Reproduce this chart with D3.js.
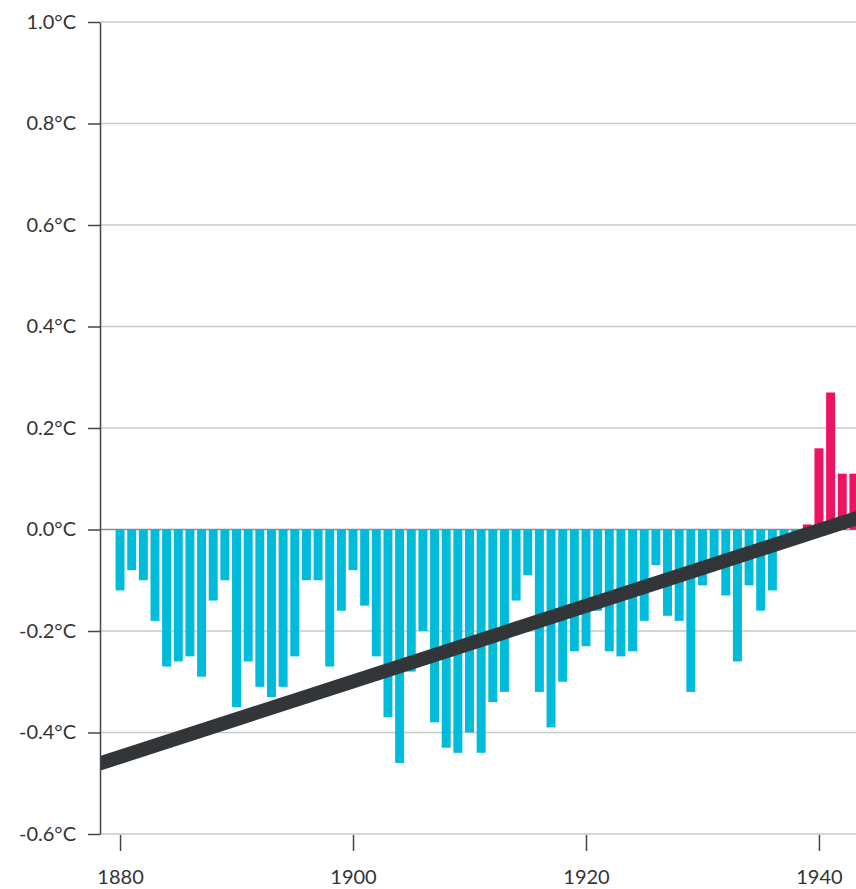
<!DOCTYPE html>
<html>
<head>
<meta charset="utf-8">
<script src="https://d3js.org/d3.v7.min.js"></script>
<style>
  body { margin: 0; background: #fff; }
  svg { display: block; font-family: Lato, "Open Sans", sans-serif; }
</style>
</head>
<body>
<svg id="chart"></svg>
<script>
const years = [
  1880, 1881, 1882, 1883, 1884, 1885, 1886, 1887, 1888, 1889,
  1890, 1891, 1892, 1893, 1894, 1895, 1896, 1897, 1898, 1899,
  1900, 1901, 1902, 1903, 1904, 1905, 1906, 1907, 1908, 1909,
  1910, 1911, 1912, 1913, 1914, 1915, 1916, 1917, 1918, 1919,
  1920, 1921, 1922, 1923, 1924, 1925, 1926, 1927, 1928, 1929,
  1930, 1931, 1932, 1933, 1934, 1935, 1936, 1937, 1938, 1939,
  1940, 1941, 1942, 1943
];
const anomalies = [
  -0.12, -0.08, -0.10, -0.18, -0.27, -0.26, -0.25, -0.29, -0.14, -0.10,
  -0.35, -0.26, -0.31, -0.33, -0.31, -0.25, -0.10, -0.10, -0.27, -0.16,
  -0.08, -0.15, -0.25, -0.37, -0.46, -0.28, -0.20, -0.38, -0.43, -0.44,
  -0.40, -0.44, -0.34, -0.32, -0.14, -0.09, -0.32, -0.39, -0.30, -0.24,
  -0.23, -0.16, -0.24, -0.25, -0.24, -0.18, -0.07, -0.17, -0.18, -0.32,
  -0.11, -0.07, -0.13, -0.26, -0.11, -0.16, -0.12, -0.03, -0.02, 0.01,
  0.16, 0.27, 0.11, 0.11
];
// linear trend, ends outside the visible window
const trendYears = [1878, 1944];
const trendValues = [-0.463, 0.028];

const yTicks = [-0.6, -0.4, -0.2, 0.0, 0.2, 0.4, 0.6, 0.8, 1.0];
const xTicks = [1880, 1900, 1920, 1940];

const width = 856;
const height = 889;
const margin = { top: 22, left: 100, bottom: 55 };

const svg = d3.select("#chart")
  .attr("width", width)
  .attr("height", height);

const x = d3.scaleLinear()
  .domain([1878.28, 1943.18])
  .range([margin.left, width]);

const y = d3.scaleLinear()
  .domain([-0.6, 1.0])
  .range([height - margin.bottom, margin.top]);

const barHalf = 0.385; // in years

svg.append("defs").append("clipPath")
  .attr("id", "plot-clip")
  .append("rect")
  .attr("x", margin.left)
  .attr("y", 0)
  .attr("width", width - margin.left)
  .attr("height", height);

// gridlines
svg.append("g")
  .selectAll("line")
  .data(yTicks)
  .join("line")
  .attr("x1", margin.left)
  .attr("x2", width)
  .attr("y1", d => y(d))
  .attr("y2", d => y(d))
  .attr("stroke", d => d === 0 ? "#8a8a8a" : "#c8c8c8")
  .attr("stroke-width", 1.5);

const data = years.map((yr, i) => ({ year: yr, value: anomalies[i] }));

// bars
svg.append("g")
  .attr("clip-path", "url(#plot-clip)")
  .selectAll("rect")
  .data(data)
  .join("rect")
  .attr("x", d => x(d.year - barHalf))
  .attr("width", d => x(d.year + barHalf) - x(d.year - barHalf))
  .attr("y", d => y(Math.max(0, d.value)))
  .attr("height", d => Math.abs(y(d.value) - y(0)))
  .attr("fill", d => d.value >= 0 ? "#ec1462" : "#00bcda");

// trend line
const line = d3.line()
  .x(d => x(d[0]))
  .y(d => y(d[1]));

svg.append("path")
  .attr("clip-path", "url(#plot-clip)")
  .datum(trendYears.map((yr, i) => [yr, trendValues[i]]))
  .attr("d", line)
  .attr("fill", "none")
  .attr("stroke", "#333638")
  .attr("stroke-width", 14);

// y axis
const yAxis = svg.append("g")
  .attr("transform", `translate(${margin.left},0)`)
  .call(d3.axisLeft(y)
    .tickValues(yTicks)
    .tickSize(12)
    .tickSizeOuter(0)
    .tickPadding(12)
    .tickFormat(d => d.toFixed(1) + "°C"));

yAxis.select(".domain").attr("stroke", "#444").attr("stroke-width", 1.5);
yAxis.selectAll(".tick line").attr("stroke", "#444").attr("stroke-width", 1.5);
yAxis.selectAll(".tick text")
  .attr("fill", "#333")
  .attr("font-size", "20px")
  .attr("font-family", "Lato, sans-serif");

// x axis
const xAxis = svg.append("g")
  .attr("transform", `translate(0,${height - margin.bottom + 1})`)
  .call(d3.axisBottom(x)
    .tickValues(xTicks)
    .tickSize(16)
    .tickPadding(19)
    .tickFormat(d3.format("d")));

xAxis.select(".domain").remove();
xAxis.selectAll(".tick line").attr("stroke", "#444").attr("stroke-width", 1.5);
xAxis.selectAll(".tick text")
  .attr("fill", "#333")
  .attr("font-size", "20px")
  .attr("font-family", "Lato, sans-serif");
</script>
</body>
</html>
